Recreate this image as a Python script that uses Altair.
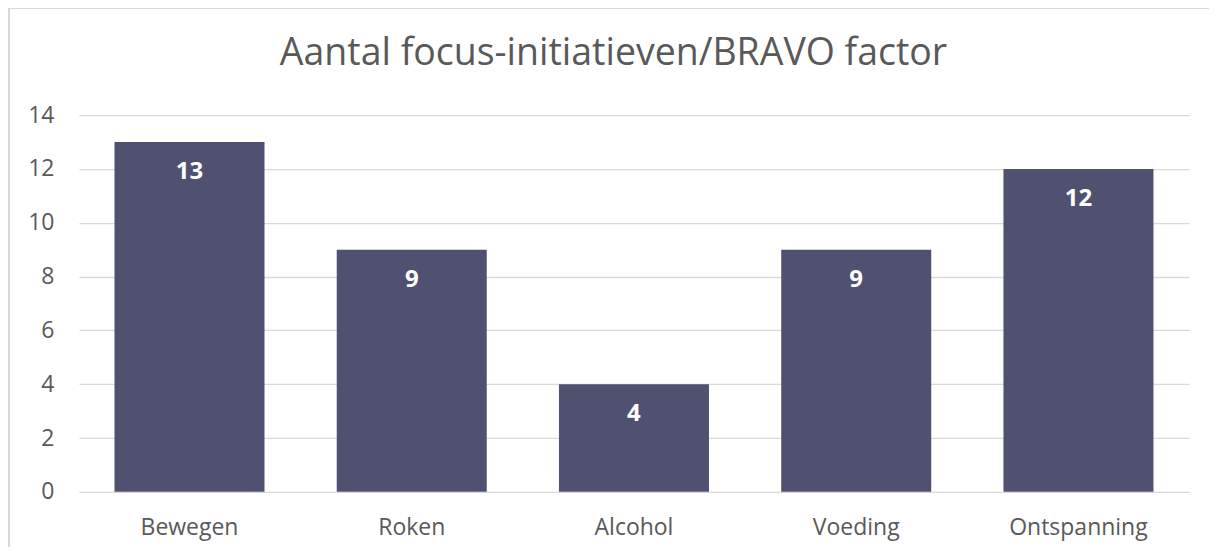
import altair as alt
import pandas as pd

categories = ["Bewegen", "Roken", "Alcohol", "Voeding", "Ontspanning"]
values = [13, 9, 4, 9, 12]
y_ticks = [0, 2, 4, 6, 8, 10, 12, 14]
title_text = "Aantal focus-initiatieven/BRAVO factor"

df = pd.DataFrame({"cat": categories, "val": values})

FONT = "Open Sans"
W, H = 1111, 377

x = alt.X("cat:N", sort=categories, title=None,
          scale=alt.Scale(paddingInner=0.325, paddingOuter=0.16),
          axis=alt.Axis(labelAngle=0, labelFontSize=23, labelColor="#595959",
                        labelFont=FONT, labelPadding=25, ticks=False, domain=False, grid=False))
y = alt.Y("val:Q", title=None,
          scale=alt.Scale(domain=[0, 14], nice=False),
          axis=alt.Axis(values=y_ticks, labelFontSize=23, labelColor="#595959", labelFont=FONT,
                        labelPadding=25, ticks=False, domain=False, grid=True,
                        gridColor="#d9d9d9", gridWidth=1.3))

bars = alt.Chart(df).mark_bar(color="#505171").encode(x=x, y=y)
labels = alt.Chart(df).mark_text(color="white", fontWeight="bold", fontSize=24, font=FONT,
                                 baseline="middle", dy=30).encode(
    x=alt.X("cat:N", sort=categories), y="val:Q", text="val:Q")

frame = alt.Chart(df).mark_rect(fill=None, stroke="#d9d9d9", strokeWidth=1.5, clip=False).encode(
    x=alt.value(-70), x2=alt.value(1160), y=alt.value(-107), y2=alt.value(470))

title = alt.Chart(pd.DataFrame({"t": [title_text]})).mark_text(
    fontSize=37.5, font=FONT, color="#595959", baseline="middle", align="center").encode(
    x=alt.value(535), y=alt.value(-61), text="t:N")

chart = alt.layer(frame, bars, labels, title).properties(
    width=W, height=H,
    padding={"left": 71, "top": 107, "right": 20, "bottom": 55},
    autosize=alt.AutoSizeParams(type="none"),
).configure_view(stroke=None)

chart.save("out.html", embed_options={"renderer": "svg", "actions": False})
